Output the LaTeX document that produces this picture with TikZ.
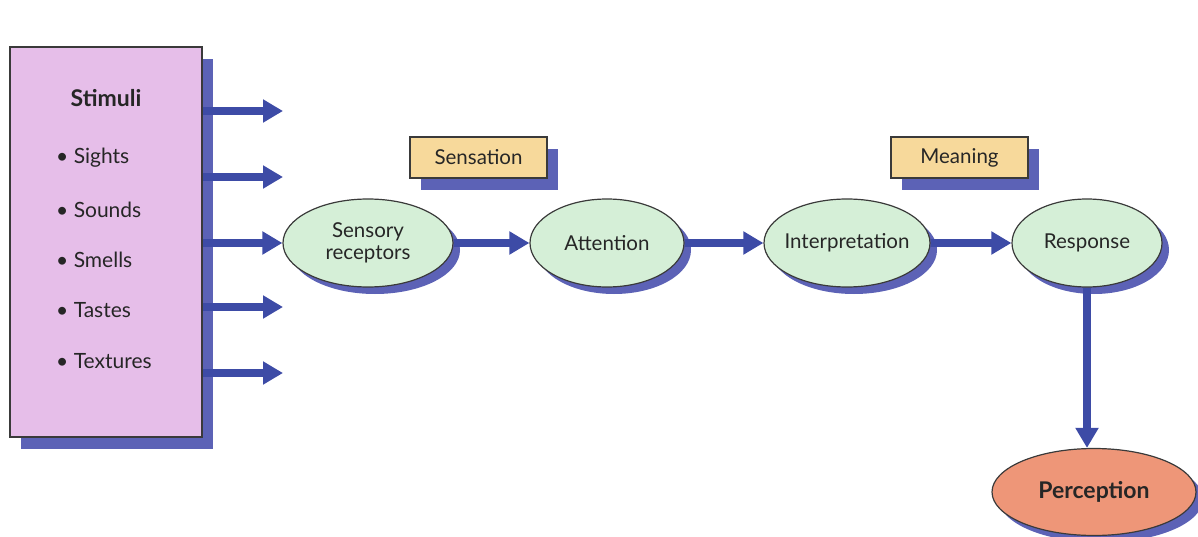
\documentclass[tikz,border=0pt]{standalone}
\usepackage{fontspec}
\setmainfont{Lato}
\usetikzlibrary{shapes.geometric,arrows.meta,shadows}
\definecolor{boxpink}{HTML}{E6BEE9}
\definecolor{shadowblue}{HTML}{5C62B6}
\definecolor{arrowblue}{HTML}{3D4BA6}
\definecolor{ellgreen}{HTML}{D5EFD7}
\definecolor{labyellow}{HTML}{F7D99B}
\definecolor{percorange}{HTML}{EE9678}
\definecolor{edgegray}{HTML}{3A3A3A}
\tikzset{
  shad/.style={general shadow={fill=shadowblue, shadow xshift=11pt, shadow yshift=-12pt}},
  eshad/.style={general shadow={fill=shadowblue, shadow xshift=7pt, shadow yshift=-7pt}},
  stimbox/.style={draw=edgegray, line width=1.2pt, fill=boxpink, shad, minimum width=192pt, minimum height=390pt, inner sep=0pt},
  labbox/.style={draw=edgegray, line width=1.2pt, fill=labyellow, shad, minimum width=137pt, minimum height=41pt, inner sep=0pt, font=\fontsize{20.5}{24}\selectfont, text=black!85},
  stage/.style={ellipse, draw=edgegray, line width=1.2pt, fill=ellgreen, eshad, inner sep=0pt, minimum width=#1, minimum height=88pt, font=\fontsize{20.5}{23}\selectfont, text=black!85, align=center},
  percell/.style={ellipse, draw=edgegray, line width=1.2pt, fill=percorange, eshad, inner sep=0pt, minimum width=204pt, minimum height=87pt, font=\bfseries\fontsize{23}{26}\selectfont, text=black!85},
  item/.style={anchor=west, font=\fontsize{21}{24}\selectfont, text=black!85, inner sep=0pt},
  flow/.style={draw=arrowblue, line width=8pt, -{Triangle[length=20pt,width=22pt]}}
}
\begin{document}
\begin{tikzpicture}[x=1pt,y=-1pt]
\useasboundingbox (0,0) rectangle (1198,537);
\node[stimbox] (stim) at (106,242) {};
\node[font=\bfseries\fontsize{23}{26}\selectfont, text=black!85] (title) at (106,98) {Stimuli};
\node[item] (i1) at (56,158) {• Sights};
\node[item] (i2) at (56,210) {• Sounds};
\node[item] (i3) at (56,260) {• Smells};
\node[item] (i4) at (56,310) {• Tastes};
\node[item] (i5) at (56,361) {• Textures};

\node[labbox] (sens) at (478.5,157.5) {Sensation};
\node[labbox] (mean) at (959.5,157.5) {Meaning};

\node[stage=170pt] (sr) at (368,243) {Sensory\\[-1pt]receptors};
\node[stage=154pt] (att) at (607,243) {Attention};
\node[stage=166pt, inner xsep=-7pt] (int) at (847,243) {Interpretation};
\node[stage=150pt] (resp) at (1087,243) {Response};
\node[percell] (perc) at (1094,492) {Perception};

\coordinate (e1) at (283,111);
\coordinate (e2) at (283,177);
\coordinate (e4) at (283,307);
\coordinate (e5) at (283,373);
\draw[flow] (stim.east |- e1) -- (e1);
\draw[flow] (stim.east |- e2) -- (e2);
\draw[flow] (stim.east |- sr.west) -- (sr.west);
\draw[flow] (stim.east |- e4) -- (e4);
\draw[flow] (stim.east |- e5) -- (e5);

\draw[flow] (sr.east) -- (att.west);
\draw[flow] (att.east) -- (int.west);
\draw[flow] (int.east) -- (resp.west);
\draw[flow] (resp.south) -- (resp.south |- perc.north);
\end{tikzpicture}
\end{document}
